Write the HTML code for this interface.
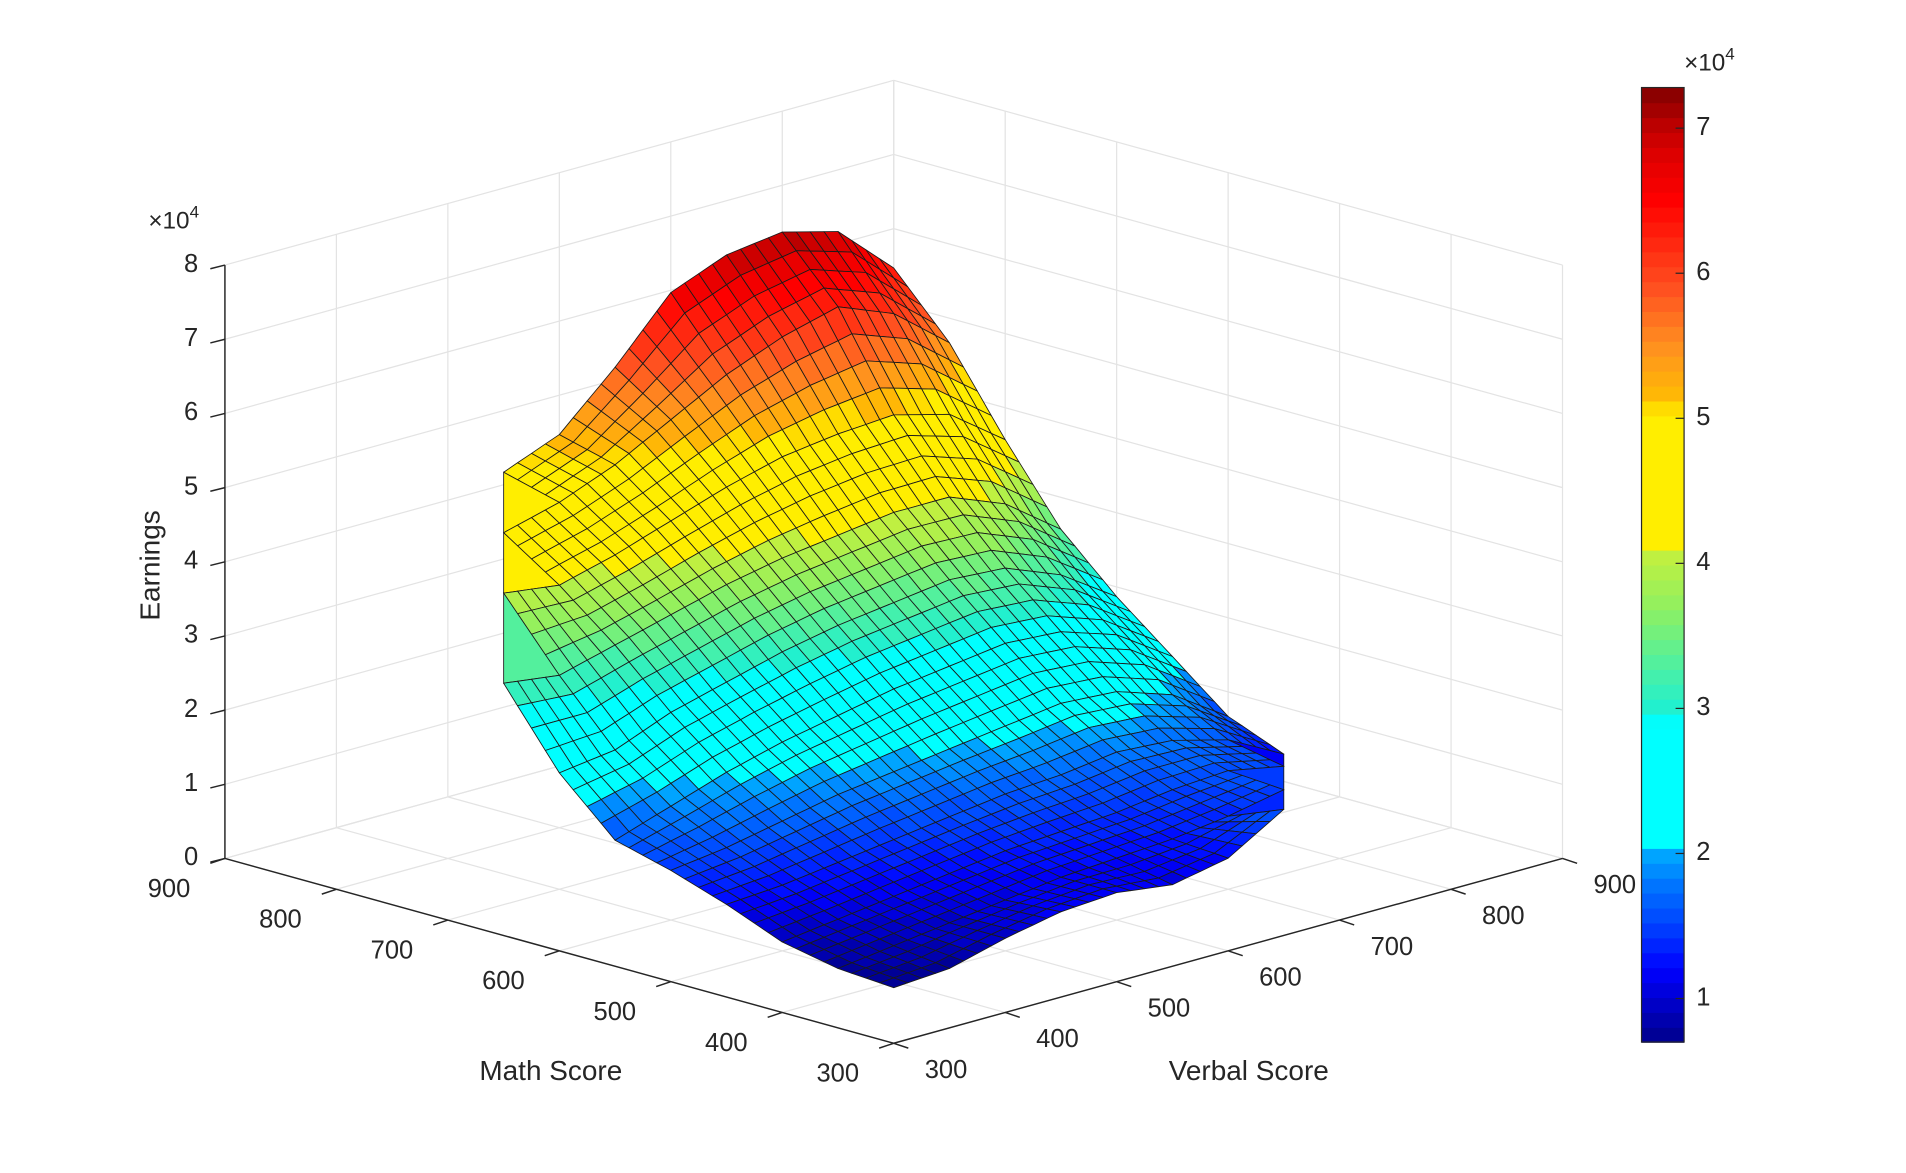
<!DOCTYPE html>
<html><head><meta charset="utf-8"><style>
html,body{margin:0;padding:0;background:#fff;}
svg{display:block;font-family:"Liberation Sans",sans-serif;}
</style></head><body>
<svg id="chart" width="1906" height="1173" viewBox="0 0 1567.5 964.7" preserveAspectRatio="none" xmlns="http://www.w3.org/2000/svg">
<g id="grid"></g>
<g id="axes"></g>
<g id="surface"></g>
<g id="cbar"></g>
</svg>
<script>
// ---- data ----
const mathScores = [300,350,400,450,500,550,600,650,700,750,800];
const verbalScores = [300,350,400,450,500,550,600,650,700,750,800];
// earnings (x10^4); rows = math score, columns = verbal score; null = no data
const earnings = [
 [0.75,0.80,1.00,1.15,1.20,1.10,1.25,1.70,null,null,null],
 [0.80,0.90,1.00,1.10,1.20,1.25,1.30,1.40,1.55,null,null],
 [0.95,1.05,1.15,1.25,1.35,1.40,1.45,1.55,1.60,1.45,null],
 [1.25,1.30,1.40,1.50,1.60,1.70,1.75,1.85,1.80,1.60,1.20],
 [1.50,1.60,1.75,1.90,2.00,2.10,2.20,2.30,2.25,2.00,1.50],
 [1.70,1.95,2.20,2.40,2.55,2.70,2.80,2.90,2.85,2.60,2.10],
 [2.40,2.50,2.80,3.00,3.20,3.35,3.45,3.55,3.50,3.20,2.70],
 [3.40,3.30,3.50,3.70,3.90,4.05,4.15,4.25,4.25,3.95,3.40],
 [null,4.20,4.10,4.30,4.55,4.80,5.00,5.10,5.15,4.95,4.40],
 [null,null,4.60,4.80,5.10,5.50,5.90,6.20,6.40,6.10,5.50],
 [null,null,null,5.00,5.30,6.00,6.80,7.10,7.20,7.00,6.30]
];
const zTicks = [0,1,2,3,4,5,6,7,8];
const mathTicks = [300,400,500,600,700,800,900];
const verbalTicks = [300,400,500,600,700,800,900];
const cbarTicks = [1,2,3,4,5,6,7];
const cMin = 0.70, cMax = 7.28;
// colormap stops (value x10^4 -> colour)
const cmapValues = [0.70, 1.20, 1.50, 1.80, 2.00, 2.05, 2.90, 3.00, 3.30, 3.70, 4.05, 4.10, 5.05, 5.10, 5.50, 5.90, 6.50, 6.80, 7.00, 7.28];
const cmapColors = ["#00008a","#0000ff","#0040ff","#0078ff","#00a8ff","#00ffff","#00ffff","#20f0d0","#50f0a0","#90f060","#c0f040","#ffee00","#ffee00","#ffc000","#ff9020","#ff5020","#ff0000","#e00000","#c00000","#800000"];

// ---- projection ----
const NS = "http://www.w3.org/2000/svg";
function P(m,v,z){ return [735 + (v-m)*0.9167, 858 - (m-300 + v-300)*0.2533 - z*61]; }
function mk(tag, attrs, parent){ const e=document.createElementNS(NS,tag); for(const k in attrs) e.setAttribute(k,attrs[k]); parent.appendChild(e); return e; }
function hex(h){ return [parseInt(h.substr(1,2),16),parseInt(h.substr(3,2),16),parseInt(h.substr(5,2),16)]; }
function col(z){
  z=Math.max(cMin,Math.min(cMax,z));
  const k=Math.floor((z-cMin)/(cMax-cMin)*63.999);
  const zq=cMin+(k+0.5)*(cMax-cMin)/64;
  let i=0; while(i<cmapValues.length-2 && zq>cmapValues[i+1]) i++;
  const t=Math.max(0,Math.min(1,(zq-cmapValues[i])/(cmapValues[i+1]-cmapValues[i])));
  const a=hex(cmapColors[i]), b=hex(cmapColors[i+1]);
  return `rgb(${Math.round(a[0]+(b[0]-a[0])*t)},${Math.round(a[1]+(b[1]-a[1])*t)},${Math.round(a[2]+(b[2]-a[2])*t)})`;
}
const gridG=document.getElementById('grid'), axG=document.getElementById('axes'), sG=document.getElementById('surface'), cG=document.getElementById('cbar');
function line(g,a,b,stroke,w,name){ const l=mk('line',{x1:a[0],y1:a[1],x2:b[0],y2:b[1],stroke:stroke,'stroke-width':w},g);
  
  
  return l; }
const GC="#e3e3e3";
mathTicks.forEach(m=>line(gridG,P(m,300,0),P(m,900,0),GC,1,'floor-grid-math'));
verbalTicks.forEach(v=>line(gridG,P(300,v,0),P(900,v,0),GC,1,'floor-grid-verbal'));
verbalTicks.forEach(v=>line(gridG,P(900,v,0),P(900,v,8),GC,1,'wall-grid-vertical'));
zTicks.forEach(z=>line(gridG,P(900,300,z),P(900,900,z),GC,1,'wall-grid-horizontal'));
mathTicks.forEach(m=>line(gridG,P(m,900,0),P(m,900,8),GC,1,'wall-grid-vertical'));
zTicks.forEach(z=>line(gridG,P(300,900,z),P(900,900,z),GC,1,'wall-grid-horizontal'));

const AC="#262626";
line(axG,P(900,300,0),P(900,300,8),AC,1.2,'z-axis-line');
line(axG,P(900,300,0),P(300,300,0),AC,1.2,'math-axis-line');
line(axG,P(300,300,0),P(300,900,0),AC,1.2,'verbal-axis-line');
function txt(g,x,y,s,size,anchor,name,extra){ const t=mk('text',{x:x,y:y,'font-size':size,'text-anchor':anchor,fill:'#262626','dominant-baseline':'middle'},g); t.textContent=s;
  
  
  if(extra) for(const k in extra) t.setAttribute(k,extra[k]); return t; }
zTicks.forEach(z=>{ const p=P(900,300,z); line(axG,[p[0]-12,p[1]+3],p,AC,1.2,'z-tick'); txt(axG,p[0]-22,p[1],String(z),21,'end','z-tick-label'); });
mathTicks.forEach(m=>{ const p=P(m,300,0); line(axG,p,[p[0]-12,p[1]+4],AC,1.2,'math-tick'); txt(axG,p[0]-46,p[1]+26,String(m),21,'middle','math-tick-label'); });
verbalTicks.forEach(v=>{ const p=P(300,v,0); line(axG,p,[p[0]+12,p[1]+4],AC,1.2,'verbal-tick'); txt(axG,p[0]+43,p[1]+23,String(v),21,'middle','verbal-tick-label'); });
txt(axG,453,882,'Math Score',23,'middle','math-axis-title');
txt(axG,1027,882,'Verbal Score',23,'middle','verbal-axis-title');
txt(axG,125,465,'Earnings',23,'middle','z-axis-title',{transform:'rotate(-90 125 465)'});
const ex=mk('text',{x:122,y:188,'font-size':20,fill:'#262626'},axG); ex.innerHTML='×10<tspan dy="-9" font-size="14">4</tspan>';



// surface
const faces=[];
for(let i=0;i<mathScores.length-1;i++) for(let j=0;j<verbalScores.length-1;j++){
  const cs=[[i,j],[i+1,j],[i+1,j+1],[i,j+1]].filter(([a,b])=>earnings[a][b]!==null);
  if(cs.length<3) continue;
  const depth=mathScores[i]+mathScores[i+1]+verbalScores[j]+verbalScores[j+1];
  faces.push({i,j,cs,depth});
}
faces.sort((a,b)=>b.depth-a.depth);
const SUB=4;
faces.forEach(f=>{
  if(f.cs.length===4){
    const {i,j}=f, m0=mathScores[i], m1=mathScores[i+1], v0=verbalScores[j], v1=verbalScores[j+1];
    const z00=earnings[i][j], z10=earnings[i+1][j], z11=earnings[i+1][j+1], z01=earnings[i][j+1];
    const Z=(a,b)=>z00*(1-a)*(1-b)+z10*a*(1-b)+z11*a*b+z01*(1-a)*b;
    const sub=[];
    for(let a=0;a<SUB;a++) for(let b=0;b<SUB;b++) sub.push([a,b]);
    sub.sort((p,q)=>(q[0]+q[1])-(p[0]+p[1]));
    sub.forEach(([a,b])=>{
      const A=a/SUB,A1=(a+1)/SUB,B=b/SUB,B1=(b+1)/SUB;
      const pts=[[A,B],[A1,B],[A1,B1],[A,B1]].map(([x,y])=>P(m0+(m1-m0)*x,v0+(v1-v0)*y,Z(x,y)));
      const pg=mk('polygon',{points:pts.map(p=>p[0].toFixed(1)+','+p[1].toFixed(1)).join(' '),fill:col(Z(A,B)),stroke:'#1a1a1a','stroke-width':0.7,'stroke-linejoin':'round'},sG);
      
      
    });
  } else {
    const zs=f.cs.map(([a,b])=>earnings[a][b]);
    const pts=f.cs.map(([a,b])=>P(mathScores[a],verbalScores[b],earnings[a][b]));
    const pg=mk('polygon',{points:pts.map(p=>p[0].toFixed(1)+','+p[1].toFixed(1)).join(' '),fill:col(Math.min(...zs)),stroke:'#1a1a1a','stroke-width':0.7},sG);
    
    
  }
});

// colorbar
const cx=1350,cw=35,cTop=72,cBot=857;
const cy=v=>cBot-(v-cMin)/(cMax-cMin)*(cBot-cTop);
for(let k=0;k<64;k++){
  const y0=cBot-(k+1)*(cBot-cTop)/64;
  const zc=cMin+(k+0.5)*(cMax-cMin)/64;
  const r=mk('rect',{x:cx,y:y0,width:cw,height:(cBot-cTop)/64+0.6,fill:col(zc)},cG);
  
  
}
const fr=mk('rect',{x:cx,y:cTop,width:cw,height:cBot-cTop,fill:'none',stroke:'#262626','stroke-width':1},cG);


cbarTicks.forEach(v=>{ const y=cy(v); line(cG,[cx+cw-7,y],[cx+cw,y],'#262626',1,'colorbar-tick'); txt(cG,1395,y,String(v),21,'start','colorbar-tick-label'); });
const ex2=mk('text',{x:1385,y:58,'font-size':20,fill:'#262626'},cG); ex2.innerHTML='×10<tspan dy="-9" font-size="14">4</tspan>';


</script>
</body></html>
